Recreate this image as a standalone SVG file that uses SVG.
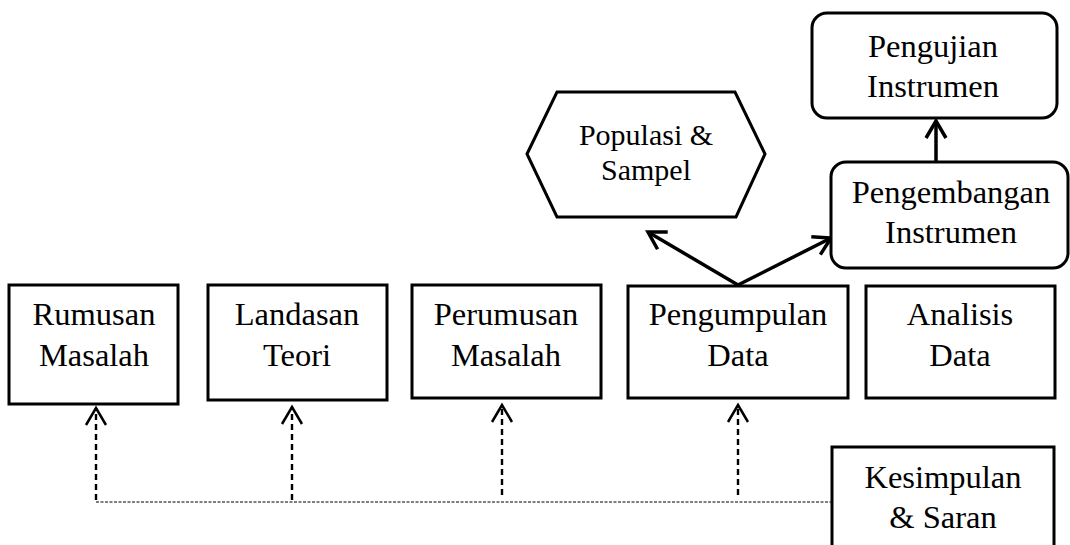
<svg xmlns="http://www.w3.org/2000/svg" width="1070" height="545" viewBox="0 0 1070 545">
<style>
.box{fill:#fff;stroke:#000;stroke-width:3}
.t{font-family:"Liberation Serif","Times New Roman",serif;font-size:32.5px;fill:#000;text-anchor:middle}
.th{font-family:"Liberation Serif","Times New Roman",serif;font-size:30px;fill:#000;text-anchor:middle}
.solid{stroke:#000;stroke-width:3.5;fill:none}
.dash{stroke:#000;stroke-width:2.4;fill:none;stroke-dasharray:6 4}
.dot{stroke:#000;stroke-width:1.2;fill:none;stroke-dasharray:3 1.5}
</style>
<defs>
<marker id="ah" markerUnits="userSpaceOnUse" viewBox="-20 -12 24 24" refX="0" refY="0" markerWidth="24" markerHeight="24" orient="auto">
<path d="M-17,-10 L0,0 L-17,10" fill="none" stroke="#000" stroke-width="3.5"/>
</marker>
<marker id="ahd" markerUnits="userSpaceOnUse" viewBox="-20 -12 24 24" refX="0" refY="0" markerWidth="24" markerHeight="24" orient="auto">
<path d="M-17,-10 L0,0 L-17,10" fill="none" stroke="#000" stroke-width="2.5"/>
</marker>
</defs>
<rect width="1070" height="545" fill="#fff"/>
<g id="connectors">
<line class="solid" x1="738" y1="285" x2="648" y2="232" marker-end="url(#ah)"/>
<line class="solid" x1="738" y1="285" x2="831" y2="238" marker-end="url(#ah)"/>
<line class="solid" x1="936" y1="162" x2="936" y2="121" marker-end="url(#ah)"/>
<polyline class="dot" points="96,502 832,502"/>
<line class="dash" x1="96" y1="500" x2="96" y2="408" marker-end="url(#ahd)"/>
<line class="dash" x1="292" y1="500" x2="292" y2="407" marker-end="url(#ahd)"/>
<line class="dash" x1="502" y1="495" x2="502" y2="405" marker-end="url(#ahd)"/>
<line class="dash" x1="738" y1="495" x2="738" y2="405" marker-end="url(#ahd)"/>
</g>
<g id="rumusan">
<rect class="box" x="9" y="285" width="169" height="119"/>
<text class="t" x="94" y="325">Rumusan</text>
<text class="t" x="94" y="366">Masalah</text>
</g>
<g id="landasan">
<rect class="box" x="208" y="285" width="179" height="115"/>
<text class="t" x="297" y="325">Landasan</text>
<text class="t" x="297" y="366">Teori</text>
</g>
<g id="perumusan">
<rect class="box" x="412" y="285" width="189" height="113"/>
<text class="t" x="506" y="325">Perumusan</text>
<text class="t" x="506" y="366">Masalah</text>
</g>
<g id="pengumpulan">
<rect class="box" x="628" y="286" width="220" height="112"/>
<text class="t" x="738" y="325">Pengumpulan</text>
<text class="t" x="738" y="366">Data</text>
</g>
<g id="analisis">
<rect class="box" x="866" y="286" width="189" height="112"/>
<text class="t" x="960" y="325">Analisis</text>
<text class="t" x="960" y="366">Data</text>
</g>
<g id="kesimpulan">
<rect class="box" x="832" y="447" width="222" height="120"/>
<text class="t" x="943" y="488">Kesimpulan</text>
<text class="t" x="943" y="528">&amp; Saran</text>
</g>
<g id="populasi">
<polygon class="box" points="527,154 557,92 735,92 765,154 736,217 557,217"/>
<text class="th" x="646" y="145">Populasi &amp;</text>
<text class="th" x="646" y="180">Sampel</text>
</g>
<g id="pengujian">
<rect class="box" x="812" y="13" width="245" height="105" rx="15" ry="15"/>
<text class="t" x="933" y="57">Pengujian</text>
<text class="t" x="933" y="97">Instrumen</text>
</g>
<g id="pengembangan">
<rect class="box" x="831" y="162" width="237" height="106" rx="15" ry="15"/>
<text class="t" x="951" y="203">Pengembangan</text>
<text class="t" x="951" y="243">Instrumen</text>
</g>
</svg>
